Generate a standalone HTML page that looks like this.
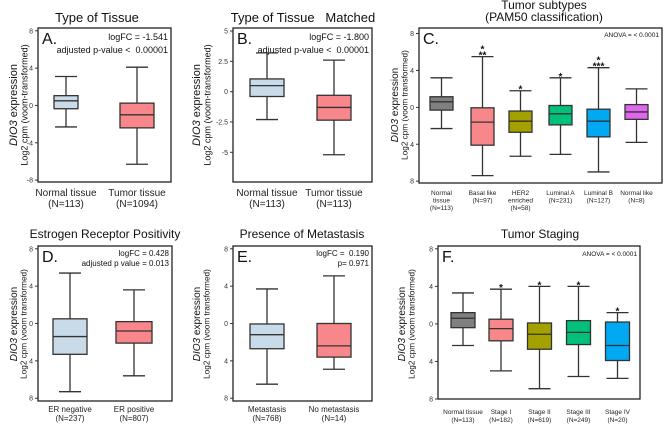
<!DOCTYPE html>
<html><head><meta charset="utf-8">
<style>
html,body{margin:0;padding:0;background:#fff;}
svg{display:block;font-family:"Liberation Sans",sans-serif;}
</style></head>
<body>
<svg id="fig" width="664" height="425" viewBox="0 0 664 425" xmlns="http://www.w3.org/2000/svg"></svg>
<script>
// Panel A
const catsA = ["Normal tissue|(N=113)", "Tumor tissue|(N=1094)"];
const hiA = [3.1, 4.1];
const q3A = [1.05, 0.25];
const medA = [0.5, -1.0];
const q1A = [-0.35, -2.4];
const loA = [-2.3, -6.3];
const ticksA = [8, 4, 0, -4, -8];
const tickLabA = ["8", "4", "0", "-4", "-8"];
// Panel B
const catsB = ["Normal tissue|(N=113)", "Tumor tissue|(N=113)"];
const hiB = [3.2, 2.6];
const q3B = [1.05, -0.3];
const medB = [0.5, -1.3];
const q1B = [-0.4, -2.35];
const loB = [-2.3, -5.2];
const ticksB = [5, 2.5, 0, -2.5, -5];
const tickLabB = ["5", "2.5", "0", "-2.5", "-5"];
// Panel C
const catsC = ["Normal|tissue|(N=113)", "Basal like|(N=97)", "HER2|enriched|(N=58)", "Luminal A|(N=231)", "Luminal B|(N=127)", "Normal like|(N=8)"];
const hiC = [3.2, 5.5, 1.8, 3.2, 4.3, 2.0];
const q3C = [1.15, -0.05, -0.4, 0.2, -0.2, 0.3];
const medC = [0.6, -1.6, -1.5, -0.7, -1.5, -0.5];
const q1C = [-0.3, -4.1, -2.7, -1.9, -3.2, -1.3];
const loC = [-2.3, -7.4, -5.3, -5.1, -7.0, -3.8];
const starsC = ["", "*|**", "*", "*", "*|***", ""];
const ticksC = [8, 4, 0, -4, -8];
const tickLabC = ["8", "4", "0", "4", "8"];
// Panel D
const catsD = ["ER negative|(N=237)", "ER positive|(N=807)"];
const hiD = [5.4, 3.6];
const q3D = [0.5, 0.2];
const medD = [-1.4, -0.8];
const q1D = [-3.3, -2.1];
const loD = [-7.3, -5.6];
// Panel E
const catsE = ["Metastasis|(N=768)", "No metastasis|(N=14)"];
const hiE = [3.7, 5.1];
const q3E = [-0.05, 0.0];
const medE = [-1.2, -2.4];
const q1E = [-2.7, -3.6];
const loE = [-6.5, -4.9];
// Panel F
const catsF = ["Normal tissue|(N=113)", "Stage I|(N=182)", "Stage II|(N=619)", "Stage III|(N=249)", "Stage IV|(N=20)"];
const hiF = [3.3, 3.7, 4.0, 4.0, 1.2];
const q3F = [1.2, 0.5, 0.1, 0.35, 0.2];
const medF = [0.6, -0.5, -1.1, -0.9, -2.3];
const q1F = [-0.4, -1.8, -2.7, -2.2, -3.9];
const loF = [-2.3, -5.0, -6.9, -5.6, -5.8];
const starsF = ["", "*", "*", "*", "*"];
const ticks8 = [8, 4, 0, -4, -8];
const tickLab8 = ["8", "4", "0", "4", "8"];

const NS = "http://www.w3.org/2000/svg";
const svg = document.getElementById("fig");
function mk(tag, attrs, parent) {
  const e = document.createElementNS(NS, tag);
  for (const k in attrs) e.setAttribute(k, attrs[k]);
  (parent || svg).appendChild(e);
  return e;
}
function txt(parent, x, y, s, size, anchor, extra) {
  const t = mk("text", Object.assign({x: x, y: y, "font-size": size, "text-anchor": anchor || "middle", fill: "#111"}, extra || {}), parent);
  t.textContent = s;
  return t;
}

function panel(cfg) {
  const g = mk("g", {});
  
  
  const y = v => cfg.y0 + (cfg.vTop - v) * (cfg.y1 - cfg.y0) / (cfg.vTop - cfg.vBot);
  cfg.title.forEach((s, i) => {
    const t = txt(g, cfg.titleX, cfg.titleY + i * 12, s, cfg.titleSize, "middle", {"xml:space": "preserve", style: "white-space:pre"});
    
    
  });
  const yl = mk("text", {transform: "translate(" + cfg.ylX + "," + cfg.ylY + ") rotate(-90)", "text-anchor": "middle", "font-size": cfg.ylSize, fill: "#111"}, g);
  
  
  const ts1 = mk("tspan", {x: 0, y: 0, "font-style": "italic"}, yl); ts1.textContent = "DIO3";
  const ts1b = mk("tspan", {}, yl); ts1b.textContent = " expression";
  const ts2 = mk("tspan", {x: 0, dy: cfg.ylSize * 0.95, "font-size": cfg.ylSize * 0.82}, yl); ts2.textContent = cfg.ylSub;
  const fr = mk("rect", {x: cfg.x0, y: cfg.y0, width: cfg.x1 - cfg.x0, height: cfg.y1 - cfg.y0, fill: "none", stroke: "#222", "stroke-width": 1.3}, g);
  
  
  cfg.ticks.forEach((v, i) => {
    const tk = mk("line", {x1: cfg.x0 - 3, x2: cfg.x0, y1: y(v), y2: y(v), stroke: "#333", "stroke-width": 1}, g);
    
    
    const tl = txt(g, cfg.x0 - 5, y(v) + 2.5, cfg.tickLab[i], 7, "end", {fill: "#333"});
    
    
  });
  const lt = txt(g, cfg.x0 + 4, cfg.y0 + 16, cfg.letter, 16, "start");
  
  
  cfg.notes.forEach((s, i) => {
    const n = txt(g, cfg.x1 - 3, cfg.y0 + cfg.noteY + i * cfg.noteGap, s, cfg.noteSize, "end", {"xml:space": "preserve", style: "white-space:pre"});
    
    
  });
  cfg.cats.forEach((c, i) => {
    const cx = cfg.cx[i], w = cfg.bw[i], cap = cfg.cap;
    const bg = mk("g", {}, g);
    
    
    const st = {stroke: "#333", "stroke-width": 1.3};
    mk("line", Object.assign({x1: cx, x2: cx, y1: y(cfg.hi[i]), y2: y(cfg.q3[i])}, st), bg);
    mk("line", Object.assign({x1: cx, x2: cx, y1: y(cfg.q1[i]), y2: y(cfg.lo[i])}, st), bg);
    mk("line", Object.assign({x1: cx - cap, x2: cx + cap, y1: y(cfg.hi[i]), y2: y(cfg.hi[i])}, st), bg);
    mk("line", Object.assign({x1: cx - cap, x2: cx + cap, y1: y(cfg.lo[i]), y2: y(cfg.lo[i])}, st), bg);
    mk("rect", Object.assign({x: cx - w / 2, y: y(cfg.q3[i]), width: w, height: y(cfg.q1[i]) - y(cfg.q3[i]), fill: cfg.colors[i]}, st), bg);
    mk("line", Object.assign({x1: cx - w / 2, x2: cx + w / 2, y1: y(cfg.med[i]), y2: y(cfg.med[i])}, st), bg);
    if (cfg.stars && cfg.stars[i]) {
      const parts = cfg.stars[i].split("|");
      parts.forEach((s, k) => {
        const sy = y(cfg.hi[i]) - 2 - (parts.length - 1 - k) * 6;
        const sx = txt(bg, cx, sy + 4, s, 10, "middle", {"font-weight": "bold"});
        
        
      });
    }
    c.split("|").forEach((s, k) => {
      const xl = txt(g, cx, cfg.xlY + k * cfg.xlGap, s, cfg.xlSize, "middle", {fill: "#222"});
      
      
    });
  });
}

const LB = "#c9dbe8", PK = "#f7878b", GR = "#808080", OL = "#a3a000", GN = "#00c07a", BL = "#00a9f2", MG = "#df66ee";
const sub1 = "Log2 cpm (voom-transformed)", sub2 = "Log2 cpm (voom transformed)";

panel({name: "panel-a-type-of-tissue", x0: 38, x1: 171, y0: 28, y1: 182, vTop: 8.3, vBot: -8.2,
  ticks: ticksA, tickLab: tickLabA, title: ["Type of Tissue"], titleX: 97, titleY: 22, titleSize: 13,
  ylX: 17, ylY: 105, ylSize: 11, ylSub: sub1, letter: "A.", notes: ["logFC = -1.541", "adjusted p-value <  0.00001"],
  noteY: 12, noteGap: 13, noteSize: 9, cats: catsA, cx: [66, 137], bw: [24, 34], cap: 11,
  hi: hiA, q3: q3A, med: medA, q1: q1A, lo: loA, colors: [LB, PK], xlY: 196, xlGap: 11, xlSize: 10});

panel({name: "panel-b-matched-tissue", x0: 233, x1: 372, y0: 28, y1: 182, vTop: 5.25, vBot: -7.45,
  ticks: ticksB, tickLab: tickLabB, title: ["Type of Tissue   Matched"], titleX: 303, titleY: 22, titleSize: 13,
  ylX: 200, ylY: 105, ylSize: 11, ylSub: sub1, letter: "B.", notes: ["logFC = -1.800", "adjusted p-value <  0.00001"],
  noteY: 12, noteGap: 13, noteSize: 9, cats: catsB, cx: [267, 334], bw: [34, 34], cap: 11,
  hi: hiB, q3: q3B, med: medB, q1: q1B, lo: loB, colors: [LB, PK], xlY: 196, xlGap: 11, xlSize: 10});

panel({name: "panel-c-tumor-subtypes", x0: 419, x1: 662, y0: 28, y1: 183, vTop: 8.6, vBot: -8.2,
  ticks: ticksC, tickLab: tickLabC, title: ["Tumor subtypes", "(PAM50 classification)"], titleX: 544, titleY: 9, titleSize: 12,
  ylX: 398, ylY: 105, ylSize: 10, ylSub: sub2, letter: "C.", notes: ["ANOVA = < 0.0001"],
  noteY: 9, noteGap: 10, noteSize: 6.5, cats: catsC, cx: [441.5, 482.5, 520.5, 560.5, 598.5, 636.5], bw: [23, 23, 23, 23, 23, 23], cap: 11,
  hi: hiC, q3: q3C, med: medC, q1: q1C, lo: loC, stars: starsC, colors: [GR, PK, OL, GN, BL, MG], xlY: 195, xlGap: 7.5, xlSize: 6.5});

panel({name: "panel-d-estrogen-receptor", x0: 38, x1: 172, y0: 246, y1: 401, vTop: 8.3, vBot: -8.3,
  ticks: ticks8, tickLab: tickLab8, title: ["Estrogen Receptor Positivity"], titleX: 105, titleY: 238, titleSize: 12,
  ylX: 17, ylY: 324, ylSize: 10, ylSub: sub2, letter: "D.", notes: ["logFC = 0.428", "adjusted p value = 0.013"],
  noteY: 10, noteGap: 10, noteSize: 8, cats: catsD, cx: [70, 134], bw: [34, 36], cap: 11,
  hi: hiD, q3: q3D, med: medD, q1: q1D, lo: loD, colors: [LB, PK], xlY: 412, xlGap: 9, xlSize: 8});

panel({name: "panel-e-metastasis", x0: 233, x1: 372, y0: 246, y1: 401, vTop: 8.3, vBot: -8.3,
  ticks: ticks8, tickLab: tickLab8, title: ["Presence of Metastasis"], titleX: 302, titleY: 238, titleSize: 12,
  ylX: 200, ylY: 324, ylSize: 10, ylSub: sub2, letter: "E.", notes: ["logFC =  0.190", "p= 0.971"],
  noteY: 10, noteGap: 10, noteSize: 8, cats: catsE, cx: [267, 334], bw: [34, 34], cap: 11,
  hi: hiE, q3: q3E, med: medE, q1: q1E, lo: loE, colors: [LB, PK], xlY: 412, xlGap: 9, xlSize: 8});

panel({name: "panel-f-tumor-staging", x0: 438, x1: 640, y0: 246, y1: 399, vTop: 8.3, vBot: -8.0,
  ticks: ticks8, tickLab: tickLab8, title: ["Tumor Staging"], titleX: 540, titleY: 238, titleSize: 12,
  ylX: 405, ylY: 324, ylSize: 10, ylSub: sub2, letter: "F.", notes: ["ANOVA = < 0.0001"],
  noteY: 10, noteGap: 10, noteSize: 6.5, cats: catsF, cx: [463, 501, 539.5, 578.5, 617.5], bw: [24, 24, 24, 24, 24], cap: 11,
  hi: hiF, q3: q3F, med: medF, q1: q1F, lo: loF, stars: starsF, colors: [GR, PK, OL, GN, BL], xlY: 414, xlGap: 8, xlSize: 6.5});
</script>
</body></html>
